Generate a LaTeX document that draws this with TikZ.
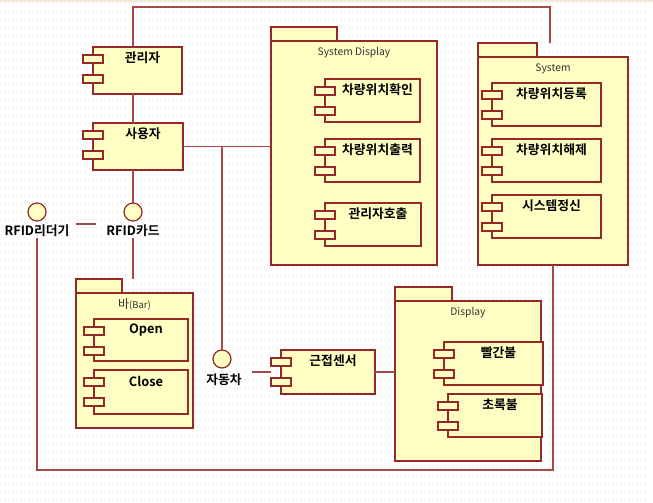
\documentclass[tikz,border=0pt]{standalone}
\usepackage{fontspec}
\setmainfont{Noto Sans CJK KR}[BoldFont={Noto Sans CJK KR Bold}]
\usetikzlibrary{positioning,calc}
\definecolor{rosered}{RGB}{150,40,40}
\definecolor{wirered}{RGB}{168,72,72}
\definecolor{roseyellow}{RGB}{255,255,196}
\definecolor{griddot}{RGB}{200,200,200}
\definecolor{topstrip}{RGB}{238,232,212}
\tikzset{
  box/.style={draw=rosered,fill=roseyellow,line width=1.2pt,rectangle,inner sep=0pt,outer sep=0pt},
  comp/.style={box,minimum height=43pt},
  port/.style={draw=rosered,fill=roseyellow,line width=1.2pt},
  tab/.style={box,minimum height=14pt,anchor=south west},
  iface/.style={box,circle,minimum size=18pt},
  lbl/.style={font=\fontsize{12.8}{15}\selectfont\bfseries,inner sep=1pt},
  complbl/.style={lbl,anchor=center,xshift=5pt,yshift=-11pt},
  pkglbl/.style={font=\fontsize{10.3}{12}\selectfont,text=black!80,inner sep=1pt,anchor=center,yshift=-11.5pt},
  wire/.style={draw=wirered,line width=1.4pt},
}

\begin{document}
\begin{tikzpicture}[x=1pt,y=-1pt]

\useasboundingbox (0,0) rectangle (653,503);
\fill[white] (0,0) rectangle (653,503);
\fill[topstrip] (0,0) rectangle (653,2);
\foreach \x in {5,13,...,653}
  \foreach \y in {3,11,...,503}
    \fill[griddot] (\x,\y) rectangle ++(1,1);

% packages
\node[box,minimum width=166pt,minimum height=224pt,label={[pkglbl]north:System Display}] (sd) at (354,153) {};
\node[tab,minimum width=66pt] (sdtab) at (sd.north west) {};
\node[box,minimum width=150pt,minimum height=208pt,label={[pkglbl]north:System}] (sys) at (553,161) {};
\node[tab,minimum width=59pt] (systab) at (sys.north west) {};
\node[box,minimum width=117pt,minimum height=135pt,label={[pkglbl]north:{\fontsize{12}{14}\selectfont 바}{\fontsize{9.5}{12}\selectfont(Bar)}}] (bar) at (134.5,360.5) {};
\node[tab,minimum width=46pt] (bartab) at (bar.north west) {};
\node[box,minimum width=146pt,minimum height=160pt,label={[pkglbl]north:Display}] (disp) at (468,381) {};
\node[tab,minimum width=57pt] (disptab) at (disp.north west) {};

% components
\node[comp,minimum width=89pt,minimum height=47pt,label={[complbl]north:관리자}] (adm) at (137.5,70.5) {};
\node[comp,minimum width=90pt,minimum height=47pt,label={[complbl]north:사용자}] (usr) at (138,146.5) {};
\node[comp,minimum width=95pt,label={[complbl]north:차량위치확인}] (chk) at (372.5,100.5) {};
\node[comp,minimum width=95pt,label={[complbl]north:차량위치출력}] (out) at (372.5,160.5) {};
\node[comp,minimum width=96pt,label={[complbl]north:관리자호출}] (call) at (373,224.5) {};
\node[comp,minimum width=109pt,label={[complbl]north:차량위치등록}] (reg) at (546.5,104.5) {};
\node[comp,minimum width=109pt,label={[complbl]north:차량위치해제}] (rel) at (546.5,160.5) {};
\node[comp,minimum width=109pt,label={[complbl]north:시스템정신}] (upd) at (546.5,216.5) {};
\node[comp,minimum width=94pt,minimum height=42pt,label={[complbl]north:Open}] (baropen) at (141,340) {};
\node[comp,minimum width=94pt,minimum height=44pt,label={[complbl]north:Close}] (barclose) at (141,392) {};
\node[comp,minimum width=94pt,minimum height=44pt,label={[complbl]north:근접센서}] (sens) at (328,372) {};
\node[comp,minimum width=99pt,label={[complbl]north:빨간불}] (red) at (493.5,363.5) {};
\node[comp,minimum width=94pt,label={[complbl]north:초록불}] (green) at (495,415.5) {};

\foreach \c in {adm,usr,chk,out,call,reg,rel,upd,baropen,barclose,sens,red,green} {
  \draw[port] ($(\c.north west)+(-10,8)$) rectangle ++(20,8);
  \draw[port] ($(\c.north west)+(-10,28)$) rectangle ++(20,8);
}

% interfaces
\node[iface] (reader) at (37,212) {};
\node[lbl,below=3pt of reader] (readerlbl) {RFID리더기};
\node[iface] (card) at (133,212) {};
\node[lbl,below=3pt of card] (cardlbl) {RFID카드};
\node[iface] (car) at (222,359) {};
\node[lbl,below=5pt of car,xshift=2pt] (carlbl) {자동차};

\coordinate (topbend) at (550,7);
\coordinate (loopbend) at (553,470);

\begin{scope}
\draw[wire] (card |- adm.north) |- (topbend) -- (topbend |- systab.north);
\draw[wire] (card |- adm.south) -- (card |- usr.north);
\draw[wire] (usr.east) -- (sd.west |- usr.east);
\draw[wire] (card |- usr.south) -- (card.north);
\draw[wire] ([xshift=5pt]readerlbl.north east) -- ([xshift=-9pt]cardlbl.north west);
\draw[wire] (cardlbl.south) -- (card |- bartab.north);
\draw[wire] (readerlbl.south) |- (loopbend) -- (sys.south);
\draw[wire] (car.north) -- (car |- usr.east);
\draw[wire] ([xshift=-10pt]sens.west) -- ([xshift=9pt]carlbl.east |- sens.west);
\draw[wire] (sens.east) -- (disp.west |- sens.east);
\end{scope}

\end{tikzpicture}
\end{document}
